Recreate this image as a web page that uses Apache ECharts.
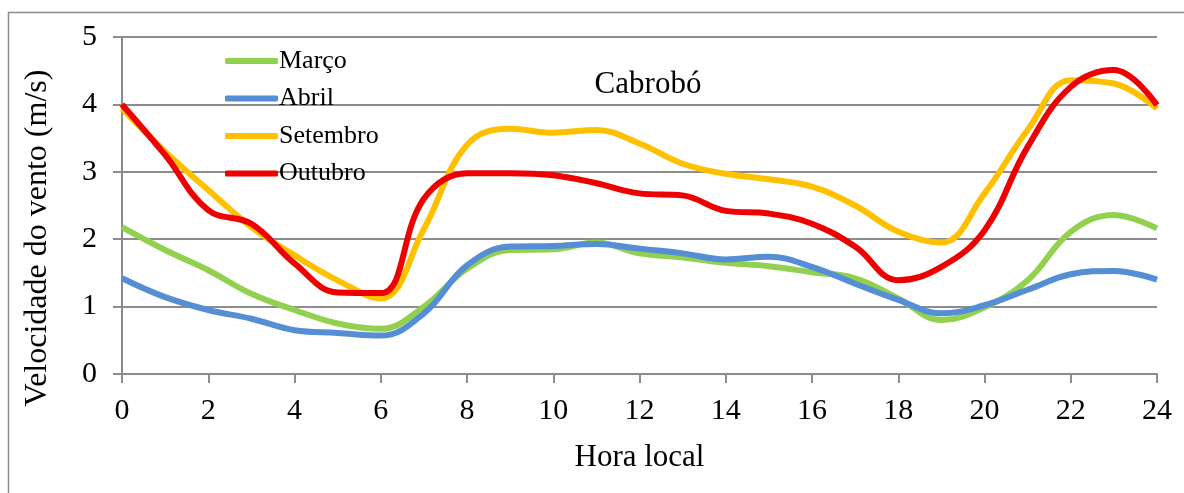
<!DOCTYPE html>
<html>
<head>
<meta charset="utf-8">
<script src="https://cdn.jsdelivr.net/npm/echarts@6/dist/echarts.min.js"></script>
<style>
  html, body { margin: 0; padding: 0; background: #fff; }
  #chart { width: 1184px; height: 493px; }
</style>
</head>
<body>
<div id="chart"></div>
<script>
const hours = [0,1,2,3,4,5,6,7,8,9,10,11,12,13,14,15,16,17,18,19,20,21,22,23,24];
const marco = [2.18,1.84,1.54,1.19,0.95,0.75,0.67,1.00,1.56,1.84,1.85,1.95,1.79,1.73,1.65,1.60,1.51,1.42,1.12,0.80,0.99,1.39,2.11,2.36,2.16];
const abril = [1.42,1.14,0.95,0.82,0.65,0.61,0.57,0.90,1.61,1.89,1.90,1.93,1.86,1.79,1.70,1.74,1.59,1.34,1.10,0.90,1.02,1.25,1.48,1.53,1.40];
const setembro = [3.94,3.30,2.73,2.18,1.76,1.39,1.12,2.15,3.40,3.64,3.58,3.62,3.42,3.12,2.97,2.89,2.78,2.50,2.11,1.95,2.68,3.62,4.36,4.31,3.94];
const outubro = [4.00,3.25,2.43,2.23,1.64,1.21,1.20,2.60,2.98,2.98,2.95,2.83,2.68,2.65,2.42,2.38,2.23,1.89,1.39,1.59,2.13,3.37,4.26,4.51,3.99];

const seriesNames = ["Março", "Abril", "Setembro", "Outubro"];
const seriesData = [marco, abril, setembro, outubro];
const seriesColors = ["#92d050", "#558ed5", "#ffc000", "#ee0000"];

let chart = echarts.init(document.getElementById("chart"));
const font = "Liberation Serif";
const gridColor = "#8c8c8c";

let option = {
    animation: false,
    textStyle: { fontFamily: font, color: "#000" },
    title: {
        text: "Cabrobó",
        left: 643,
        top: 64,
        textAlign: "center",
        textStyle: { fontFamily: font, fontSize: 31, fontWeight: "normal", color: "#000" }
    },
    legend: {
        orient: "vertical",
        left: 220,
        top: 43,
        itemWidth: 53,
        itemHeight: 6,
        itemGap: 11.5,
        textStyle: { fontFamily: font, fontSize: 26, color: "#000", padding: [0, 0, 0, -4] },
        data: seriesNames.map(n => ({ name: n, icon: "roundRect" }))
    },
    grid: { left: 122, right: 27, top: 37, bottom: 119 },
    xAxis: {
        type: "value",
        min: 0,
        max: 24,
        interval: 2,
        name: "Hora local",
        nameLocation: "middle",
        nameGap: 68,
        nameTextStyle: { fontFamily: font, fontSize: 31, color: "#000" },
        axisLine: { show: true, onZero: false, lineStyle: { color: gridColor, width: 2 } },
        axisTick: { show: true, length: 9, lineStyle: { color: gridColor, width: 2 } },
        axisLabel: { fontFamily: font, fontSize: 30, color: "#000", margin: 22 },
        splitLine: { show: false }
    },
    yAxis: {
        type: "value",
        min: 0,
        max: 5,
        interval: 1,
        axisLine: { show: true, lineStyle: { color: gridColor, width: 2 } },
        axisTick: { show: true, length: 9, lineStyle: { color: gridColor, width: 2 } },
        axisLabel: { fontFamily: font, fontSize: 30, color: "#000", margin: 25 },
        splitLine: { show: true, lineStyle: { color: gridColor, width: 2 } }
    },
    graphic: [
        {
            type: "rect",
            shape: { x: 8.5, y: 12.5, width: 1400, height: 600 },
            style: { fill: "none", stroke: gridColor, lineWidth: 1.5 },
            silent: true
        },
        {
            type: "text",
            x: 38,
            y: 238,
            rotation: Math.PI / 2,
            style: {
                text: "Velocidade do vento (m/s)",
                fontFamily: font,
                fontSize: 32,
                fill: "#000",
                align: "center",
                verticalAlign: "middle"
            }
        }
    ],
    series: seriesNames.map((name, i) => ({
        name: name,
        type: "line",
        smooth: 0.4,
        symbol: "none",
        data: hours.map((h, j) => [h, seriesData[i][j]]),
        lineStyle: { color: seriesColors[i], width: 6 },
        itemStyle: { color: seriesColors[i] },
        z: 2 + i
    }))
};
chart.setOption(option);
</script>
</body>
</html>
